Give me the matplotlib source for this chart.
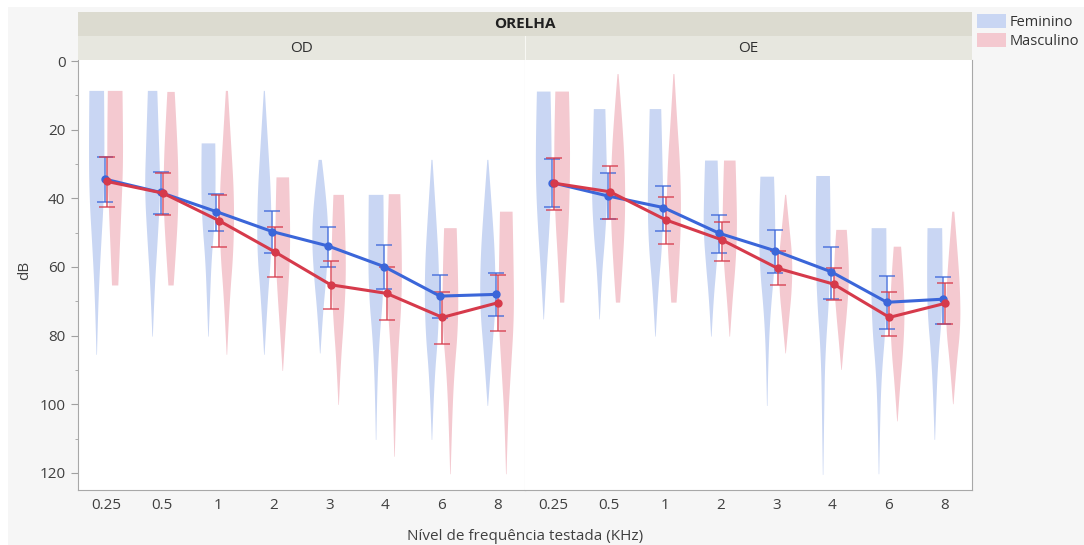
import matplotlib.pyplot as plt
import numpy as np
from matplotlib.patches import Rectangle, Patch

plt.rcParams['font.family'] = ['Open Sans', 'DejaVu Sans']

# frequencies tested (kHz) and the two ears
freqs = ['0.25', '0.5', '1', '2', '3', '4', '6', '8']
ears = ['OD', 'OE']

# mean threshold (dB) with 95% interval, per ear and sex
od_fem_mean = [34.4, 38.3, 43.9, 49.7, 53.9, 59.9, 68.5, 68.0]
od_fem_lo = [27.9, 32.2, 38.7, 43.7, 48.4, 53.6, 62.3, 61.7]
od_fem_hi = [41.2, 44.6, 49.5, 56.0, 59.9, 66.5, 74.9, 74.3]
od_mas_mean = [35.1, 38.5, 46.5, 55.6, 65.2, 67.7, 74.7, 70.4]
od_mas_lo = [27.9, 32.5, 39.1, 48.5, 58.3, 60.0, 67.2, 62.3]
od_mas_hi = [42.4, 44.9, 54.2, 62.9, 72.3, 75.4, 82.5, 78.8]

oe_fem_mean = [35.4, 39.3, 42.7, 50.2, 55.3, 61.4, 70.3, 69.4]
oe_fem_lo = [28.6, 32.7, 36.3, 44.9, 49.2, 54.1, 62.6, 63.0]
oe_fem_hi = [42.4, 46.1, 49.5, 56.0, 61.9, 69.4, 78.1, 76.6]
oe_mas_mean = [35.6, 38.1, 46.3, 52.1, 60.4, 65.0, 74.7, 70.6]
oe_mas_lo = [28.4, 30.6, 39.5, 46.8, 55.4, 60.4, 67.2, 64.8]
oe_mas_hi = [43.4, 46.1, 53.3, 58.3, 65.4, 69.6, 80.0, 76.7]

# range of observed thresholds (dB) for each violin
od_fem_min = [8.7, 8.7, 24.0, 8.7, 28.8, 39.0, 28.8, 28.8]
od_fem_max = [85.6, 80.3, 80.3, 85.6, 85.2, 110.4, 110.4, 100.5]
od_mas_min = [8.7, 9.0, 8.7, 33.9, 39.0, 38.8, 48.7, 43.9]
od_mas_max = [65.4, 65.4, 85.6, 90.3, 100.2, 115.3, 120.4, 120.4]
oe_fem_min = [8.9, 14.0, 14.0, 29.0, 33.7, 33.5, 48.7, 48.7]
oe_fem_max = [75.3, 75.3, 80.3, 80.3, 100.5, 120.6, 120.4, 110.4]
oe_mas_min = [8.9, 3.8, 3.8, 29.0, 39.0, 49.2, 54.1, 43.9]
oe_mas_max = [70.4, 70.4, 70.4, 80.3, 85.2, 90.0, 105.0, 100.0]

# relative density (16 = widest) at six evenly spaced levels from min to max
od_fem_dens = [[14, 15, 14, 8, 3, 0.5], [9, 12, 15, 10, 4, 0.5],
               [13, 14, 12, 6, 3, 0.5], [1, 7, 13, 14, 6, 0.5],
               [3, 12, 16, 12, 5, 0.5], [14, 15, 14, 6, 2, 0.5],
               [1, 8, 14, 13, 4, 0.5], [1, 8, 14, 15, 7, 0.5]]
od_mas_dens = [[14, 15, 15, 12, 9, 6], [7, 11, 14, 14, 10, 5],
               [2, 8, 14, 13, 5, 0.5], [12, 14, 14, 10, 5, 0.5],
               [10, 13, 14, 10, 4, 0.5], [11, 14, 14, 7, 3, 0.5],
               [12, 15, 15, 7, 3, 0.5], [12, 14, 15, 9, 3, 0.5]]
oe_fem_dens = [[13, 15, 15, 11, 5, 0.5], [11, 13, 15, 11, 4, 0.5],
               [11, 13, 15, 13, 5, 0.5], [12, 14, 15, 10, 4, 0.5],
               [13, 16, 14, 6, 2, 0.5], [13, 15, 12, 4, 2, 0.5],
               [14, 15, 13, 5, 2, 0.5], [14, 15, 14, 7, 3, 0.5]]
oe_mas_dens = [[13, 15, 15, 13, 8, 4], [1, 8, 13, 14, 10, 4],
               [1, 6, 12, 14, 11, 5], [11, 13, 14, 11, 5, 0.5],
               [1, 7, 13, 12, 6, 0.5], [10, 14, 14, 10, 5, 0.5],
               [7, 12, 14, 11, 5, 0.5], [2, 8, 13, 14, 6, 0.5]]

panels = {
    'OD': {'Feminino': (od_fem_mean, od_fem_lo, od_fem_hi, od_fem_min, od_fem_max, od_fem_dens),
           'Masculino': (od_mas_mean, od_mas_lo, od_mas_hi, od_mas_min, od_mas_max, od_mas_dens)},
    'OE': {'Feminino': (oe_fem_mean, oe_fem_lo, oe_fem_hi, oe_fem_min, oe_fem_max, oe_fem_dens),
           'Masculino': (oe_mas_mean, oe_mas_lo, oe_mas_hi, oe_mas_min, oe_mas_max, oe_mas_dens)},
}

fill_col = {'Feminino': '#c9d6f3', 'Masculino': '#f4c9d0'}
line_col = {'Feminino': '#3b66d9', 'Masculino': '#d63a4b'}
violin_off = {'Feminino': -0.165, 'Masculino': 0.165}
point_off = {'Feminino': -0.022, 'Masculino': 0.022}
VIOLIN_HALF = 0.15

W, H = 1084, 545
fig = plt.figure(figsize=(W / 100, H / 100), dpi=100)
fig.patch.set_facecolor('white')
fig.patches.append(Rectangle((8 / W, 0), 1, 1 - 7 / H, transform=fig.transFigure,
                             facecolor='#f6f6f6', edgecolor='none', zorder=-10))


def fx(px):
    return px / W


def fy(py):
    return 1 - py / H


def smooth_outline(w, y, n=16):
    # quadratic B-spline through the knot midpoints, keeps both end knots
    out_w, out_y = [w[0]], [y[0]]
    sw, sy = w[0], y[0]
    t = np.linspace(0, 1, n)[1:]
    for k in range(1, len(w) - 1):
        if k == len(w) - 2:
            ew, ey = w[-1], y[-1]
        else:
            ew, ey = (w[k] + w[k + 1]) / 2, (y[k] + y[k + 1]) / 2
        out_w.extend((1 - t) ** 2 * sw + 2 * (1 - t) * t * w[k] + t ** 2 * ew)
        out_y.extend((1 - t) ** 2 * sy + 2 * (1 - t) * t * y[k] + t ** 2 * ey)
        sw, sy = ew, ey
    return np.array(out_w), np.array(out_y)


x = np.arange(len(freqs))
left_px = {'OD': 78, 'OE': 525}
panel_w = 447

for ear in ears:
    ax = fig.add_axes([fx(left_px[ear]), fy(490), panel_w / W, 430 / H])
    ax.set_facecolor('white')

    for sex, (mean, lo, hi, vmin, vmax, dens) in panels[ear].items():
        for i in range(len(freqs)):
            levels = np.linspace(vmin[i], vmax[i], len(dens[i]))
            hw, yy = smooth_outline(np.array(dens[i]) / 16 * VIOLIN_HALF, levels)
            cx = x[i] + violin_off[sex]
            ax.fill(np.concatenate([cx - hw, (cx + hw)[::-1]]),
                    np.concatenate([yy, yy[::-1]]),
                    color=fill_col[sex], lw=0, zorder=1)

    for sex, (mean, lo, hi, vmin, vmax, dens) in panels[ear].items():
        mean = np.array(mean)
        xp = x + point_off[sex]
        ax.errorbar(xp, mean, yerr=[mean - np.array(lo), np.array(hi) - mean],
                    fmt='none', ecolor=line_col[sex], elinewidth=1.1,
                    capsize=6, capthick=1.1, alpha=0.85, zorder=3)
        ax.plot(xp, mean, '-o', color=line_col[sex], lw=2.2, ms=5, zorder=4)

    ax.set_xlim(-0.5, len(freqs) - 0.5)
    ax.set_ylim(125, -0.3)
    ax.set_xticks(x)
    ax.set_xticklabels(freqs)
    ax.tick_params(axis='x', length=0, pad=6, labelsize=11, labelcolor='#404040')
    ax.set_yticks(np.arange(0, 121, 20))
    ax.set_yticks(np.arange(10, 121, 20), minor=True)
    ax.tick_params(axis='y', which='major', length=5, color='#a0a0a0', pad=4,
                   labelsize=11, labelcolor='#404040')
    ax.tick_params(axis='y', which='minor', length=2.5, color='#a0a0a0')
    ax.spines['top'].set_visible(False)
    for s in ['left', 'right', 'bottom']:
        ax.spines[s].set_color('#a8a8a8')
    if ear == 'OD':
        ax.spines['right'].set_color('#d4d4d4')
    else:
        ax.spines['left'].set_visible(False)
        ax.tick_params(axis='y', which='both', left=False, labelleft=False)

    # panel strip
    st = fig.add_axes([fx(left_px[ear]), fy(60), panel_w / W, 24 / H])
    st.set_facecolor('#e7e7df')
    st.set_xticks([])
    st.set_yticks([])
    for s in st.spines.values():
        s.set_visible(False)
    st.text(0.5, 0.5, ear, ha='center', va='center', fontsize=11, color='#303030')
    if ear == 'OE':
        st.axvline(0, color='#f8f8f4', lw=1.5)

# header strip across both ears
hd = fig.add_axes([fx(78), fy(36), 2 * panel_w / W, 24 / H])
hd.set_facecolor('#dcdbd0')
hd.set_xticks([])
hd.set_yticks([])
for s in hd.spines.values():
    s.set_visible(False)
hd.text(0.5, 0.5, 'ORELHA', ha='center', va='center', fontsize=11,
        fontweight='bold', color='#202020')

fig.text(fx(25), fy(270), 'dB', rotation=90, ha='center', va='center',
         fontsize=11, color='#404040')
fig.text(fx(525), fy(537), 'Nível de frequência testada (KHz)', ha='center',
         va='center', fontsize=11, color='#404040')

handles = [Patch(facecolor=fill_col[s], edgecolor='none') for s in ['Feminino', 'Masculino']]
fig.legend(handles, ['Feminino', 'Masculino'], loc='upper left',
           bbox_to_anchor=(fx(977), fy(14)), frameon=False, fontsize=10.5,
           handlelength=2.0, handleheight=1.05, handletextpad=0.25,
           labelspacing=0.25, borderaxespad=0, borderpad=0,
           labelcolor='#333333')

fig.savefig('out.png', dpi=100)
